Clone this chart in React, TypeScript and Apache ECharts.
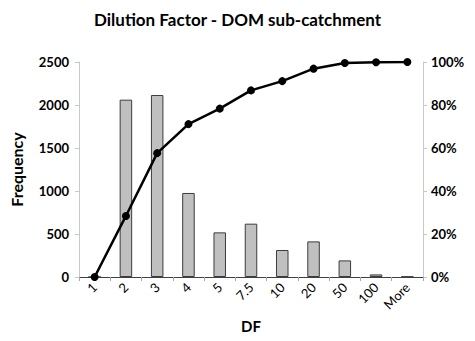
import React, { useEffect, useRef } from "react";
import * as echarts from "echarts";

// Dilution factor classes (bins)
const categories = ["1", "2", "3", "4", "5", "7.5", "10", "20", "50", "100", "More"];
// Frequency of samples in each bin
const frequency = [0, 2062, 2116, 977, 519, 620, 314, 414, 193, 30, 5];
// Cumulative percentage
const cumulativePct = [0, 28.4, 57.6, 71.1, 78.3, 86.8, 91.1, 96.9, 99.5, 99.9, 100];
// Axis tick values
const freqTicks = { min: 0, max: 2500, interval: 500 };
const pctTicks = { min: 0, max: 100, interval: 20 };

const FONT = "Lato, 'Open Sans', sans-serif";

export default function App() {
  const ref = useRef<HTMLDivElement>(null);

  useEffect(() => {
    if (!ref.current) return;
    const chart = echarts.init(ref.current, null, { renderer: "svg" });
    chart.setOption({
      animation: false,
      backgroundColor: "#ffffff",
      title: {
        text: "Dilution Factor - DOM sub-catchment",
        left: "center",
        top: 6,
        textStyle: { fontFamily: FONT, fontSize: 17, fontWeight: "bold", color: "#000" },
      },
      grid: { left: 71, right: 52, top: 62, bottom: 64 },
      xAxis: [
        {
          type: "category",
          data: categories,
          position: "bottom",
          name: "DF",
          nameLocation: "middle",
          nameGap: 40,
          nameTextStyle: { fontFamily: FONT, fontSize: 15, fontWeight: "bold", color: "#000" },
          axisLine: { lineStyle: { color: "#a6a6a6", width: 1 } },
          axisTick: { show: true, length: 4, alignWithLabel: false, lineStyle: { color: "#a6a6a6" } },
          axisLabel: {
            rotate: 45,
            margin: 8,
            fontFamily: FONT,
            fontSize: 13,
            color: "#000",
          },
        },
        {
          type: "category",
          data: categories,
          position: "top",
          axisLine: { lineStyle: { color: "#404040", width: 1 } },
          axisTick: { show: false },
          axisLabel: { show: false },
        },
      ],
      yAxis: [
        {
          type: "value",
          ...freqTicks,
          position: "left",
          name: "Frequency",
          nameLocation: "middle",
          nameRotate: 90,
          nameGap: 55,
          nameTextStyle: { fontFamily: FONT, fontSize: 16, fontWeight: "bold", color: "#000" },
          axisLine: { show: true, lineStyle: { color: "#c8c8c8" } },
          axisTick: { show: true, length: 4, lineStyle: { color: "#c8c8c8" } },
          axisLabel: {
            formatter: (v: number) => String(v),
            fontFamily: FONT,
            fontSize: 13,
            fontWeight: "bold",
            color: "#000",
            margin: 10,
          },
          splitLine: { show: false },
        },
        {
          type: "value",
          ...pctTicks,
          position: "right",
          axisLine: { show: true, lineStyle: { color: "#c8c8c8" } },
          axisTick: { show: true, length: 4, lineStyle: { color: "#c8c8c8" } },
          axisLabel: {
            formatter: "{value}%",
            fontFamily: FONT,
            fontSize: 13,
            fontWeight: "bold",
            color: "#000",
            margin: 8,
          },
          splitLine: { show: false },
        },
      ],
      series: [
        {
          type: "bar",
          data: frequency,
          xAxisIndex: 0,
          yAxisIndex: 0,
          barWidth: "40%",
          itemStyle: { color: "#c0c0c0", borderColor: "#3c3c3c", borderWidth: 1 },
        },
        {
          type: "line",
          data: cumulativePct,
          xAxisIndex: 0,
          yAxisIndex: 1,
          symbol: "circle",
          symbolSize: 8,
          lineStyle: { color: "#000", width: 2.5 },
          itemStyle: { color: "#000" },
        },
      ],
    });
    return () => chart.dispose();
  }, []);

  return <div ref={ref} style={{ width: 475, height: 341, margin: -8 }} />;
}
